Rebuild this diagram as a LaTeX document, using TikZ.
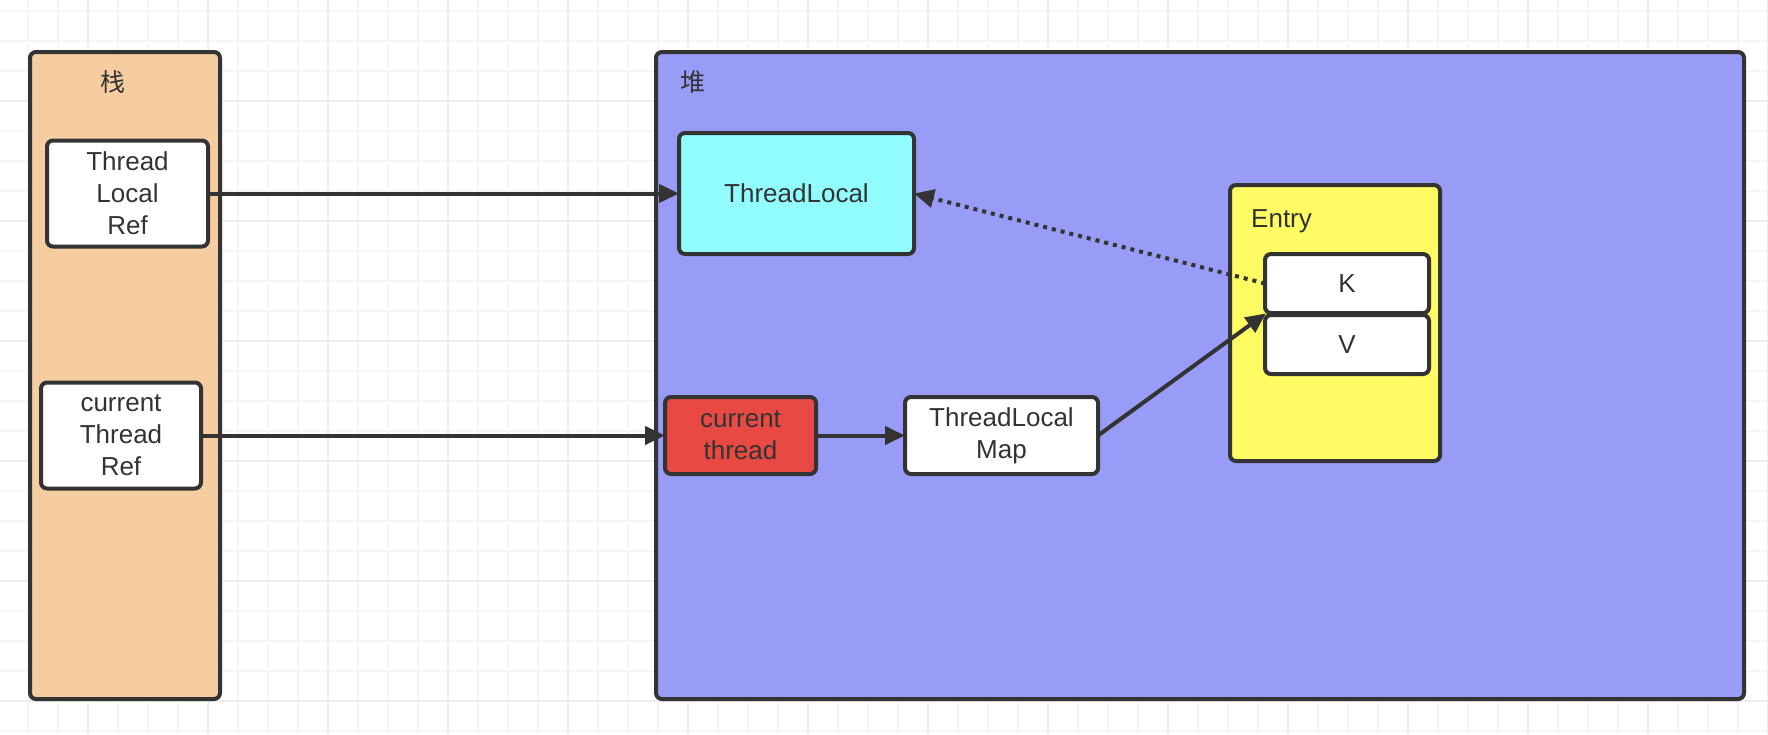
\documentclass[tikz,border=0pt]{standalone}
\usepackage{fontspec}
\setmainfont{Liberation Sans}
\newfontfamily\cjk{Noto Sans CJK SC}
\usetikzlibrary{arrows.meta,calc}
\definecolor{peach}{HTML}{F6CDA1}
\definecolor{heapc}{HTML}{989CF6}
\definecolor{cyanc}{HTML}{92FDFE}
\definecolor{redc}{HTML}{E84A43}
\definecolor{yellowc}{HTML}{FFFB63}
\definecolor{ink}{HTML}{333333}
\definecolor{gridminor}{HTML}{F5F5F5}
\definecolor{gridmajor}{HTML}{EDEDED}
\begin{document}
\begin{tikzpicture}[x=1pt,y=-1pt,
  box/.style={draw=ink,line width=4pt,rounded corners=6pt,inner sep=0pt,outer sep=0pt,
    align=center,text=ink,font=\fontsize{26}{32}\selectfont},
  conn/.style={draw=ink,line width=4pt,-{Triangle[length=20pt,width=18pt]}},
  lbl/.style={text=ink,inner sep=0pt,font=\fontsize{26}{32}\selectfont}]
\useasboundingbox (0,0) rectangle (1768,734);
\fill[white] (0,0) rectangle (1768,734);
% grid
\foreach \k in {0,...,58} {\draw[gridminor,line width=2pt] (27.7+30*\k,0) -- (27.7+30*\k,734);}
\foreach \k in {0,...,24} {\draw[gridminor,line width=2pt] (0,10.7+30*\k) -- (1768,10.7+30*\k);}
\foreach \k in {0,...,14} {\draw[gridmajor,line width=2pt] (87.7+120*\k,0) -- (87.7+120*\k,734);}
\foreach \k in {0,...,6} {\draw[gridmajor,line width=2pt] (0,100.7+120*\k) -- (1768,100.7+120*\k);}
% stack
\node[box,fill=peach,minimum width=190pt,minimum height=647pt] (stack) at (125,375.5) {};
\node[lbl,font=\cjk\fontsize{25}{31}\selectfont] (stacklbl) at (113,82) {栈};
\node[box,fill=white,minimum width=161pt,minimum height=106pt] (tlref) at (127.5,193.5) {Thread\\Local\\Ref};
\node[box,fill=white,minimum width=160pt,minimum height=106pt] (ctref) at (121,435.5) {current\\Thread\\Ref};
% heap
\node[box,fill=heapc,minimum width=1088pt,minimum height=647pt] (heap) at (1200,375.5) {};
\node[lbl,font=\cjk\fontsize{25}{31}\selectfont] (heaplbl) at (693,82) {堆};
\node[box,fill=cyanc,minimum width=235pt,minimum height=121pt] (tl) at (796.5,193.5) {ThreadLocal};
\node[box,fill=redc,minimum width=151pt,minimum height=77pt] (ct) at (740.5,435.5) {current\\thread};
\node[box,fill=white,minimum width=193pt,minimum height=77pt] (map) at (1001.5,435.5) {ThreadLocal\\Map};
\node[box,fill=yellowc,minimum width=210pt,minimum height=276pt] (entry) at (1335,323) {};
\node[lbl,anchor=base west] (entrylbl) at (1251,227) {Entry};
\node[box,fill=white,minimum width=164pt,minimum height=59pt] (K) at (1347,283.5) {K};
\node[box,fill=white,minimum width=164pt,minimum height=59pt] (V) at (1347,344.5) {V};
\coordinate (kv) at ($(K.south west)!0.5!(V.north west)$);
% connectors
\draw[conn] (tlref.east) -- (tl.west);
\draw[conn] (ctref.east) -- (ct.west);
\draw[conn] (ct.east) -- (map.west);
\draw[conn,shorten >=-1pt] (map.east) -- (kv);
\draw[conn,dash pattern=on 4pt off 5pt] (K.west) -- (tl.east);
\end{tikzpicture}
\end{document}
